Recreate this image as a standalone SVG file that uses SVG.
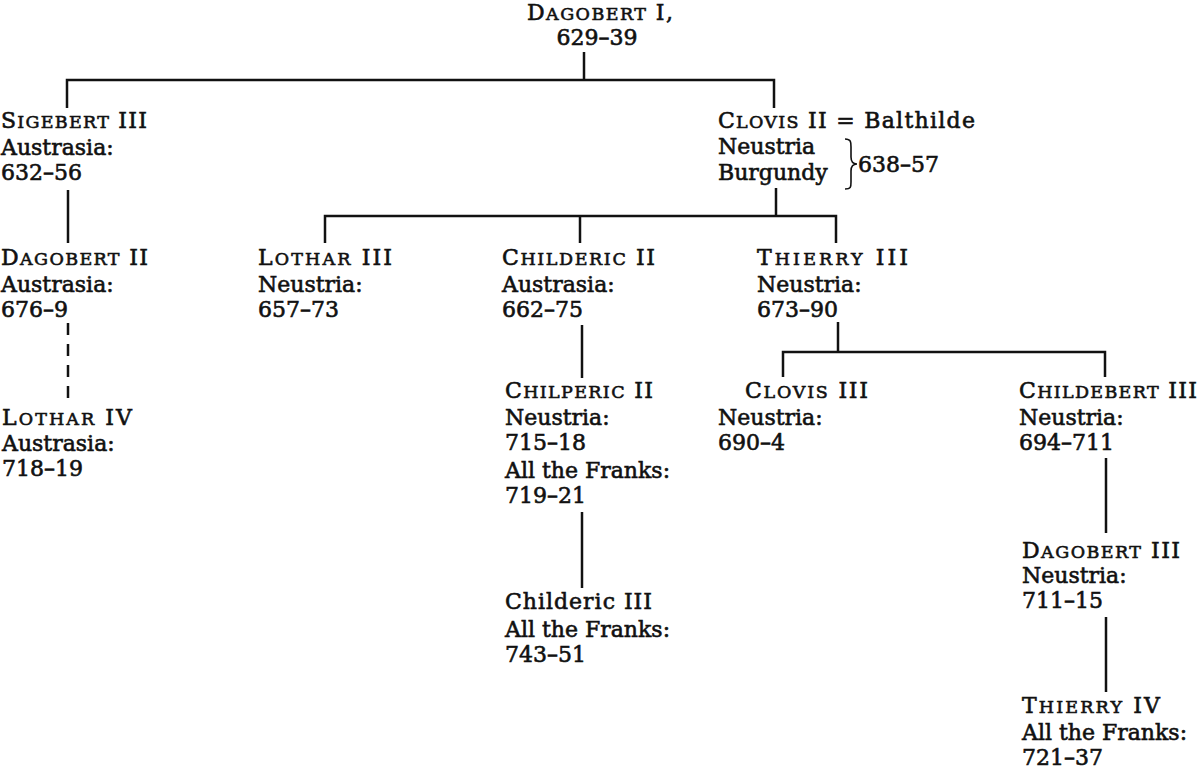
<svg xmlns="http://www.w3.org/2000/svg" width="1200" height="774" viewBox="0 0 1200 774">
<style>
text{font-family:"DejaVu Serif","Liberation Serif",serif;font-size:22px;fill:#111;stroke:#111;stroke-width:0.6}
.sc{font-size:17.5px}
.ln{fill:none;stroke:#111;stroke-width:2.5}
.dash{stroke-dasharray:12 9}
</style>
<rect width="1200" height="774" fill="#fff"/>
<g id="connectors">
<path class="ln" d="M584,52V80"/>
<path class="ln" d="M67,108V80H774V108"/>
<path class="ln" d="M68,190V243"/>
<path class="ln dash" d="M68,323V405"/>
<path class="ln" d="M776,188V216"/>
<path class="ln" d="M325,243V216H836V243"/>
<path class="ln" d="M580,216V243"/>
<path class="ln" d="M582,325V378"/>
<path class="ln" d="M582,512V588"/>
<path class="ln" d="M838,322V352"/>
<path class="ln" d="M783,377V352H1105V377"/>
<path class="ln" d="M1106,458V533"/>
<path class="ln" d="M1106,617V692"/>
</g>
<g id="dagobert1">
<text x="527" y="20" textLength="146" lengthAdjust="spacing">D<tspan class="sc">AGOBERT</tspan> I,</text>
<text x="597" y="45" text-anchor="middle">629–39</text>
</g>
<g id="sigebert3">
<text x="1" y="128" textLength="146" lengthAdjust="spacing">S<tspan class="sc">IGEBERT</tspan> III</text>
<text x="1" y="155">Austrasia:</text>
<text x="1" y="180">632–56</text>
</g>
<g id="dagobert2">
<text x="1" y="265" textLength="147" lengthAdjust="spacing">D<tspan class="sc">AGOBERT</tspan> II</text>
<text x="1" y="292">Austrasia:</text>
<text x="1" y="317">676–9</text>
</g>
<g id="lothar4">
<text x="2" y="425" textLength="130" lengthAdjust="spacing">L<tspan class="sc">OTHAR</tspan> IV</text>
<text x="2" y="451">Austrasia:</text>
<text x="2" y="476">718–19</text>
</g>
<g id="clovis2">
<text x="718" y="128" textLength="257" lengthAdjust="spacing">C<tspan class="sc">LOVIS</tspan> II = Balthilde</text>
<text x="718" y="154">Neustria</text>
<text x="718" y="180">Burgundy</text>
<path d="M845,139C851,139 851,142 851,147V157C851,161 853,164 857,164C853,164 851,167 851,171V182C851,187 851,189 845,189" fill="none" stroke="#111" stroke-width="1.6"/>
<text x="858" y="172">638–57</text>
</g>
<g id="lothar3">
<text x="258" y="265" textLength="134" lengthAdjust="spacing">L<tspan class="sc">OTHAR</tspan> III</text>
<text x="258" y="292">Neustria:</text>
<text x="258" y="317">657–73</text>
</g>
<g id="childeric2">
<text x="502" y="265" textLength="153" lengthAdjust="spacing">C<tspan class="sc">HILDERIC</tspan> II</text>
<text x="502" y="292">Austrasia:</text>
<text x="502" y="317">662–75</text>
</g>
<g id="thierry3">
<text x="757" y="265" textLength="151" lengthAdjust="spacing">T<tspan class="sc">HIERRY</tspan> III</text>
<text x="757" y="292">Neustria:</text>
<text x="757" y="317">673–90</text>
</g>
<g id="chilperic2">
<text x="505" y="398" textLength="148" lengthAdjust="spacing">C<tspan class="sc">HILPERIC</tspan> II</text>
<text x="505" y="425">Neustria:</text>
<text x="505" y="450">715–18</text>
<text x="505" y="478">All the Franks:</text>
<text x="505" y="503">719–21</text>
</g>
<g id="childeric3">
<text x="505" y="609" textLength="147" lengthAdjust="spacing">Childeric III</text>
<text x="505" y="637">All the Franks:</text>
<text x="505" y="662">743–51</text>
</g>
<g id="clovis3">
<text x="745" y="398" textLength="123" lengthAdjust="spacing">C<tspan class="sc">LOVIS</tspan> III</text>
<text x="718" y="425">Neustria:</text>
<text x="718" y="450">690–4</text>
</g>
<g id="childebert3">
<text x="1019" y="398" textLength="178" lengthAdjust="spacing">C<tspan class="sc">HILDEBERT</tspan> III</text>
<text x="1019" y="425">Neustria:</text>
<text x="1019" y="450">694–711</text>
</g>
<g id="dagobert3">
<text x="1022" y="558" textLength="158" lengthAdjust="spacing">D<tspan class="sc">AGOBERT</tspan> III</text>
<text x="1022" y="583">Neustria:</text>
<text x="1022" y="608">711–15</text>
</g>
<g id="thierry4">
<text x="1022" y="713" textLength="138" lengthAdjust="spacing">T<tspan class="sc">HIERRY</tspan> IV</text>
<text x="1022" y="740">All the Franks:</text>
<text x="1022" y="765">721–37</text>
</g>
</svg>
